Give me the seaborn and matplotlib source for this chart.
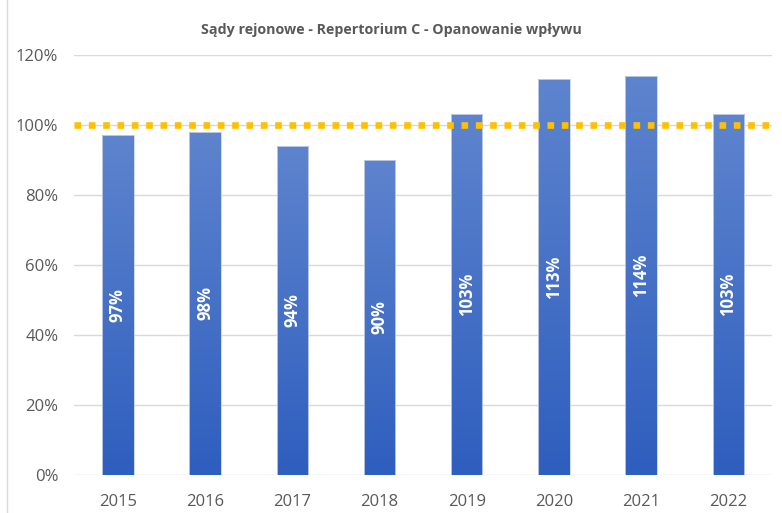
import matplotlib
matplotlib.use("Agg")
import matplotlib.pyplot as plt
import matplotlib.lines as mlines
import matplotlib.colors as mcolors
import numpy as np
import pandas as pd
import seaborn as sns

# Data
years = ["2015", "2016", "2017", "2018", "2019", "2020", "2021", "2022"]
clearance = [0.97, 0.98, 0.94, 0.90, 1.03, 1.13, 1.14, 1.03]
target = 1.0

df = pd.DataFrame({"year": years, "value": clearance})

sns.set_theme(style="white")
plt.rcParams["font.family"] = ["Open Sans", "DejaVu Sans"]

fig = plt.figure(figsize=(7.82, 5.13), dpi=100)
ax = fig.add_axes([0.095, 0.074, 0.892, 0.819])

sns.barplot(data=df, x="year", y="value", color="#4472C4", width=0.36,
            saturation=1, ax=ax, zorder=3)

# gradient fill clipped to each bar (lighter at top, darker at bottom)
cmap = mcolors.LinearSegmentedColormap.from_list("bar", ["#2E5EBE", "#5E84CE"])
grad = np.linspace(0, 1, 256).reshape(-1, 1)
for bar in ax.patches:
    x0, w, h = bar.get_x(), bar.get_width(), bar.get_height()
    bar.set_facecolor("none")
    bar.set_edgecolor("#c9d3e6")
    bar.set_linewidth(0.6)
    im = ax.imshow(grad, cmap=cmap, origin="lower", aspect="auto",
                   extent=[x0, x0 + w, 0, h], zorder=2.9)
    im.set_clip_path(bar)
ax.set_xlim(-0.5, len(years) - 0.5)
ax.set_ylim(0, 1.2)

# target line
ax.axhline(target, color="#FFC000", linewidth=4.8, linestyle=(0, (1.0, 1.15)),
           dash_capstyle="butt", zorder=4)

# value labels inside bars
for i, v in enumerate(clearance):
    ax.text(i, v / 2, f"{round(v * 100):d}%", rotation=90, ha="center",
            va="center", color="white", fontsize=12, fontweight="bold", zorder=5)

ax.set_yticks(np.arange(0, 1.21, 0.2))
ax.set_yticklabels([f"{int(round(t * 100))}%" for t in np.arange(0, 1.21, 0.2)])
ax.yaxis.grid(True, color="#d9d9d9", linewidth=1)
ax.set_axisbelow(True)
for s in ax.spines.values():
    s.set_visible(False)
ax.tick_params(axis="both", length=0, labelsize=12, labelcolor="#595959", pad=14)
ax.tick_params(axis="y", pad=11.5)
ax.set_xlabel("")
ax.set_ylabel("")

fig.suptitle("Sądy rejonowe - Repertorium C - Opanowanie wpływu", y=0.955,
             fontsize=10.3, fontweight="bold", color="#595959")

# chart border on the left
fig.add_artist(mlines.Line2D([0.009, 0.009], [0, 1], color="#d9d9d9",
                             linewidth=1, transform=fig.transFigure))

fig.savefig("out.png", dpi=100)
